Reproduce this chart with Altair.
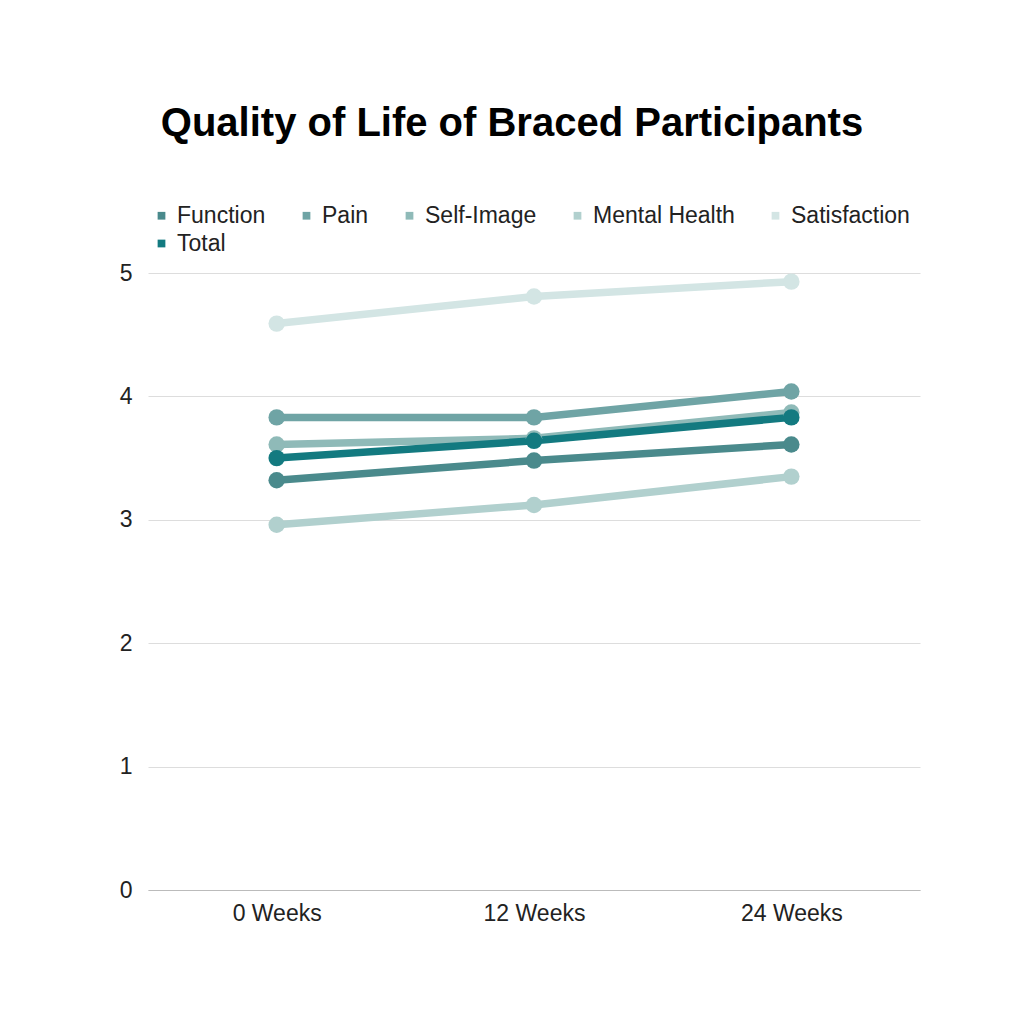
import altair as alt
import pandas as pd

weeks = ["0 Weeks", "12 Weeks", "24 Weeks"]
series = ["Function", "Pain", "Self-Image", "Mental Health", "Satisfaction", "Total"]
function_vals = [3.32, 3.48, 3.61]
pain_vals = [3.83, 3.83, 4.04]
self_image_vals = [3.61, 3.66, 3.87]
mental_health_vals = [2.96, 3.12, 3.35]
satisfaction_vals = [4.59, 4.81, 4.93]
total_vals = [3.50, 3.64, 3.83]
colors = ["#4a8a8c", "#6fa4a5", "#8fbab8", "#b1d0ce", "#d3e5e4", "#137a80"]

values = [function_vals, pain_vals, self_image_vals, mental_health_vals,
          satisfaction_vals, total_vals]
rows = []
for s, vals in zip(series, values):
    for w, v in zip(weeks, vals):
        rows.append({"Series": s, "Week": w, "Score": v})
df = pd.DataFrame(rows)
df["order"] = df["Series"].map({s: i for i, s in enumerate(series)})

color = alt.Color(
    "Series:N",
    scale=alt.Scale(domain=series, range=colors),
    sort=series,
    legend=alt.Legend(
        title=None, orient="none", direction="horizontal", columns=5,
        legendX=2, legendY=-69,
        symbolType="square", symbolSize=60, symbolStrokeWidth=0,
        labelFontSize=23, labelFont="Liberation Sans", labelColor="#222222",
        columnPadding=29, rowPadding=4, labelOffset=4,
    ),
)

base = alt.Chart(df).encode(
    x=alt.X("Week:N", sort=weeks, scale=alt.Scale(type="point", padding=0.5),
            axis=alt.Axis(title=None, labelAngle=0, ticks=False, labelPadding=12,
                          labelFontSize=23, labelFont="Liberation Sans",
                          labelColor="#222222", domainColor="#bbbbbb",
                          grid=False)),
    y=alt.Y("Score:Q", scale=alt.Scale(domain=[0, 5]),
            axis=alt.Axis(title=None, values=[0, 1, 2, 3, 4, 5],
                          labelOverlap=False,
                          ticks=False, domain=False, labelPadding=16,
                          labelFontSize=23, labelFont="Liberation Sans",
                          labelColor="#222222", gridColor="#dddddd")),
    color=color,
    detail="Series:N",
    order="order:Q",
)

lines = base.mark_line(strokeWidth=7.5)
points = base.mark_circle(size=270, opacity=1)

chart = alt.layer(lines, points).properties(
    width=772, height=617,
    title=alt.TitleParams(
        "Quality of Life of Braced Participants",
        font="Liberation Sans", fontSize=40, fontWeight="bold", color="#000000",
        anchor="middle", frame="group", dx=-22, offset=60,
    ),
    autosize=alt.AutoSizeParams(type="none"),
    padding={"left": 140, "top": 265, "right": 96, "bottom": 126},
).configure(background="#ffffff").configure_view(stroke=None)

chart.save("out.html", embed_options={"renderer": "svg", "actions": False})
